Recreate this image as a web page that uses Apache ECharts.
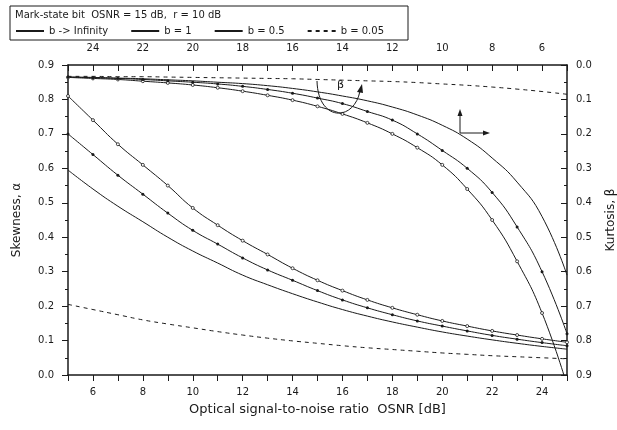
<!DOCTYPE html>
<html>
<head>
<meta charset="utf-8">
<script src="https://cdn.jsdelivr.net/npm/echarts@6/dist/echarts.min.js"></script>
<style>
  html, body { margin: 0; padding: 0; background: #fff; }
  #chart { width: 617px; height: 430px; }
</style>
</head>
<body>
<div id="chart"></div>
<script>
// OSNR grid in dB (shared by every curve)
const osnr = [5, 6, 7, 8, 9, 10, 11, 12, 13, 14, 15, 16, 17, 18, 19, 20, 21, 22, 23, 24, 25];

// Skewness alpha versus OSNR (bottom / left axes)
const skewInf  = [0.81, 0.74, 0.67, 0.61, 0.55, 0.485, 0.435, 0.39, 0.35, 0.31, 0.275, 0.245, 0.218, 0.195, 0.175, 0.157, 0.142, 0.128, 0.116, 0.105, 0.095];
const skewB1   = [0.70, 0.64, 0.58, 0.525, 0.47, 0.42, 0.38, 0.34, 0.305, 0.275, 0.245, 0.218, 0.195, 0.175, 0.157, 0.142, 0.128, 0.115, 0.104, 0.094, 0.085];
const skewB05  = [0.595, 0.54, 0.49, 0.445, 0.40, 0.36, 0.325, 0.29, 0.262, 0.236, 0.212, 0.19, 0.171, 0.154, 0.139, 0.125, 0.113, 0.102, 0.092, 0.083, 0.075];
const skewB005 = [0.205, 0.19, 0.175, 0.16, 0.148, 0.137, 0.126, 0.116, 0.107, 0.099, 0.092, 0.085, 0.079, 0.074, 0.069, 0.064, 0.06, 0.056, 0.053, 0.05, 0.047];

// Kurtosis beta versus OSNR (top / right axes, both reversed)
const kurtInf  = [0.93, 0.72, 0.57, 0.45, 0.36, 0.29, 0.24, 0.20, 0.168, 0.142, 0.12, 0.102, 0.088, 0.076, 0.066, 0.058, 0.052, 0.047, 0.042, 0.039, 0.036];
const kurtB1   = [0.78, 0.60, 0.47, 0.37, 0.30, 0.248, 0.20, 0.16, 0.135, 0.112, 0.096, 0.082, 0.071, 0.062, 0.055, 0.05, 0.046, 0.042, 0.039, 0.037, 0.035];
const kurtB05  = [0.61, 0.44, 0.34, 0.27, 0.215, 0.175, 0.145, 0.122, 0.104, 0.09, 0.078, 0.068, 0.06, 0.054, 0.05, 0.046, 0.043, 0.04, 0.038, 0.036, 0.035];
const kurtB005 = [0.085, 0.077, 0.07, 0.064, 0.059, 0.055, 0.051, 0.048, 0.046, 0.044, 0.042, 0.04, 0.039, 0.038, 0.037, 0.036, 0.035, 0.034, 0.034, 0.033, 0.033];

// Legend names
const names = ['b -> Infinity', 'b = 1', 'b = 0.5', 'b = 0.05'];
const header = 'Mark-state bit  OSNR = 15 dB,  r = 10 dB';

const FONT = 'DejaVu Sans';
const INK = '#1a1a1a';

const pairs = arr => osnr.map((x, i) => [x, arr[i]]);

function curve(name, arr, xi, yi, kind) {
  const s = {
    name, type: 'line', xAxisIndex: xi, yAxisIndex: yi,
    data: pairs(arr), smooth: 0.5,
    showSymbol: false, symbol: 'none',
    lineStyle: { color: INK, width: 1 },
    itemStyle: { color: INK },
    animation: false, z: 3
  };
  if (kind === 'open') {
    s.symbol = 'circle'; s.showSymbol = true; s.symbolSize = 3;
    s.itemStyle = { color: '#fff', borderColor: INK, borderWidth: 0.8 };
  } else if (kind === 'dot') {
    s.symbol = 'circle'; s.showSymbol = true; s.symbolSize = 3;
    s.itemStyle = { color: INK };
  } else if (kind === 'dash') {
    s.lineStyle = { color: INK, width: 1, type: [4, 4] };
  }
  return s;
}

const tickLabel = { fontFamily: FONT, fontSize: 10, color: INK };
const axisLine = { show: true, lineStyle: { color: INK, width: 1.5 } };

const chart = echarts.init(document.getElementById('chart'), null, { renderer: 'canvas' });
chart.setOption({
  backgroundColor: '#fff',
  animation: false,
  title: {
    text: header, left: 15, top: 10, padding: 0,
    textStyle: { fontFamily: FONT, fontSize: 10, fontWeight: 'normal', color: INK }
  },
  legend: {
    data: names, left: 15, top: 26, padding: 0, itemGap: 22,
    itemWidth: 28, itemHeight: 8,
    itemStyle: { opacity: 0 },
    textStyle: { fontFamily: FONT, fontSize: 10, color: INK },
    inactiveColor: '#aaa'
  },
  grid: { left: 68, right: 50, top: 65, bottom: 55, outerBoundsMode: 'none', containLabel: false },
  xAxis: [
    {
      type: 'value', position: 'bottom', min: 5, max: 25, interval: 1,
      name: 'Optical signal-to-noise ratio  OSNR [dB]',
      nameLocation: 'middle', nameGap: 28,
      nameTextStyle: { fontFamily: FONT, fontSize: 13, color: INK },
      axisLine, splitLine: { show: false },
      axisTick: { show: true, inside: false, length: 6, lineStyle: { color: INK } },
      axisLabel: { ...tickLabel, margin: 12, formatter: v => (v % 2 === 0 ? String(v) : '') }
    },
    {
      type: 'value', position: 'top', min: 5, max: 25, interval: 1, inverse: true,
      axisLine, splitLine: { show: false },
      axisTick: { show: true, inside: true, length: 6, lineStyle: { color: INK } },
      axisLabel: { ...tickLabel, margin: 12, formatter: v => (v % 2 === 0 ? String(v) : '') }
    }
  ],
  yAxis: [
    {
      type: 'value', position: 'left', min: 0, max: 0.9, interval: 0.1,
      name: 'Skewness, \u03b1', nameLocation: 'middle', nameGap: 45, nameRotate: 90,
      nameTextStyle: { fontFamily: FONT, fontSize: 12, color: INK },
      axisLine, splitLine: { show: false },
      axisTick: { show: true, inside: false, length: 6, lineStyle: { color: INK } },
      minorTick: { show: true, splitNumber: 2, length: 3, lineStyle: { color: INK } },
      minorSplitLine: { show: false },
      axisLabel: { ...tickLabel, margin: 14, formatter: v => v.toFixed(1) }
    },
    {
      type: 'value', position: 'right', min: 0, max: 0.9, interval: 0.1, inverse: true,
      name: 'Kurtosis, \u03b2', nameLocation: 'middle', nameGap: 38, nameRotate: 90,
      nameTextStyle: { fontFamily: FONT, fontSize: 12, color: INK },
      axisLine, splitLine: { show: false },
      axisTick: { show: true, inside: true, length: 6, lineStyle: { color: INK } },
      minorTick: { show: true, splitNumber: 2, length: 3, lineStyle: { color: INK } },
      minorSplitLine: { show: false },
      axisLabel: { ...tickLabel, margin: 9, formatter: v => v.toFixed(1) }
    }
  ],
  graphic: [
    // frame around header and legend
    { type: 'rect', shape: { x: 10, y: 6, width: 398, height: 34 }, style: { fill: 'none', stroke: INK, lineWidth: 1 }, z: 1 },
    // rotation arrow marking the beta curves
    { type: 'bezierCurve', shape: { x1: 317, y1: 81, x2: 360, y2: 91, cpx1: 318, cpy1: 122, cpx2: 354, cpy2: 122 }, style: { fill: 'none', stroke: INK, lineWidth: 1 }, z: 5 },
    { type: 'polygon', shape: { points: [[362, 84], [357, 92], [363, 93]] }, style: { fill: INK }, z: 5 },
    { type: 'text', left: 337, top: 80, style: { text: '\u03b2', fontFamily: FONT, fontSize: 11, fill: INK }, z: 5 },
    // axis-direction marker for the kurtosis curves
    { type: 'polyline', shape: { points: [[460, 113], [460, 133], [486, 133]] }, style: { fill: 'none', stroke: INK, lineWidth: 1 }, z: 5 },
    { type: 'polygon', shape: { points: [[460, 109], [457.5, 116], [462.5, 116]] }, style: { fill: INK }, z: 5 },
    { type: 'polygon', shape: { points: [[490, 133], [483, 130.5], [483, 135.5]] }, style: { fill: INK }, z: 5 }
  ],
  series: [
    curve(names[0], skewInf, 0, 0, 'open'),
    curve(names[1], skewB1, 0, 0, 'dot'),
    curve(names[2], skewB05, 0, 0, 'solid'),
    curve(names[3], skewB005, 0, 0, 'dash'),
    curve(names[0], kurtInf, 1, 1, 'open'),
    curve(names[1], kurtB1, 1, 1, 'dot'),
    curve(names[2], kurtB05, 1, 1, 'solid'),
    curve(names[3], kurtB005, 1, 1, 'dash')
  ]
});
</script>
</body>
</html>
